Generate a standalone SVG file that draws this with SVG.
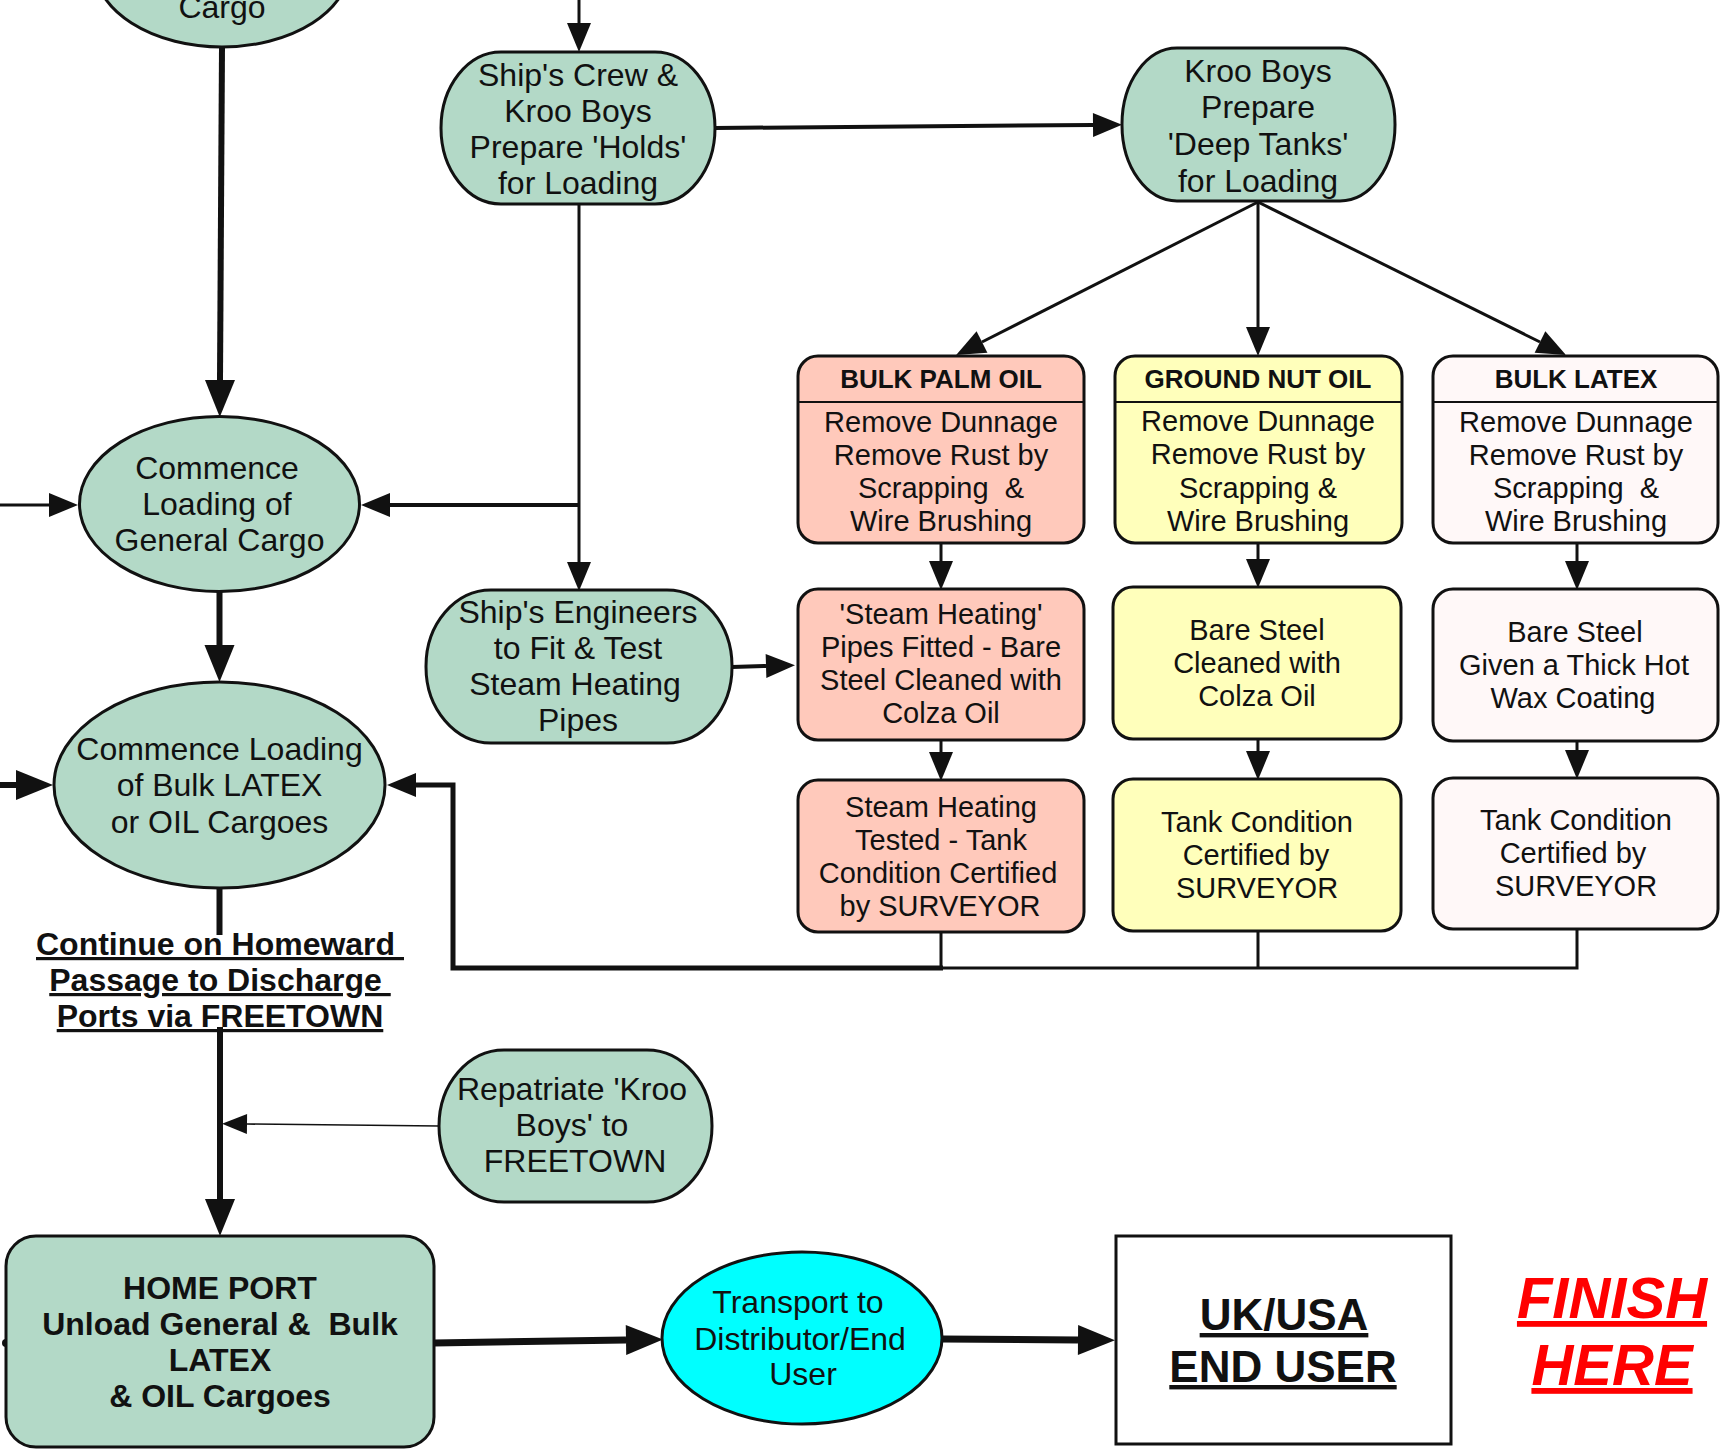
<svg xmlns="http://www.w3.org/2000/svg" width="1721" height="1449" viewBox="0 0 1721 1449">
<style>
text{font-family:"Liberation Sans",Arial,sans-serif;fill:#111;text-anchor:middle}
.t32{font-size:32px}
.t29{font-size:29px}
.hd{font-size:26px;font-weight:bold}
.b32{font-size:32px;font-weight:bold}
.ul{text-decoration:underline;white-space:pre}
.pre{white-space:pre}
.g{fill:#B3D9C7;stroke:#111;stroke-width:3}
.palm{fill:#FFC9BB;stroke:#111;stroke-width:3}
.gn{fill:#FFFFBB;stroke:#111;stroke-width:3}
.lx{fill:#FFF8F8;stroke:#111;stroke-width:3}
.c{fill:none;stroke:#111;stroke-linecap:butt}
.w3{stroke-width:3}.w4{stroke-width:4}.w5{stroke-width:5}.w6{stroke-width:6}.w7{stroke-width:7}.w1{stroke-width:1.6}
</style>
<defs>
<marker id="aL" markerUnits="userSpaceOnUse" markerWidth="38" markerHeight="30" refX="0" refY="15" orient="auto" overflow="visible"><path d="M0,0 L37,15 L0,30 z" fill="#111"/></marker>
<marker id="aM" markerUnits="userSpaceOnUse" markerWidth="30" markerHeight="24" refX="0" refY="12" orient="auto" overflow="visible"><path d="M0,0 L29,12 L0,24 z" fill="#111"/></marker>
<marker id="aS" markerUnits="userSpaceOnUse" markerWidth="26" markerHeight="20" refX="0" refY="10" orient="auto" overflow="visible"><path d="M0,0 L25,10 L0,20 z" fill="#111"/></marker>
</defs>
<rect width="1721" height="1449" fill="#fff"/>

<g id="connectors">
<path class="c w3" d="M579,0 V23" marker-end="url(#aM)"/>
<path class="c w4" d="M715,128 L1093,125" marker-end="url(#aM)"/>
<path class="c w3" d="M1258,202 L982,342" marker-end="url(#aM)"/>
<path class="c w3" d="M1258,202 V327" marker-end="url(#aM)"/>
<path class="c w3" d="M1258,202 L1540,342" marker-end="url(#aM)"/>
<path class="c w3" d="M941,543 V561" marker-end="url(#aM)"/>
<path class="c w3" d="M1258,543 V559" marker-end="url(#aM)"/>
<path class="c w3" d="M1577,543 V561" marker-end="url(#aM)"/>
<path class="c w3" d="M941,740 V752" marker-end="url(#aM)"/>
<path class="c w3" d="M1258,739 V751" marker-end="url(#aM)"/>
<path class="c w3" d="M1577,741 V750" marker-end="url(#aM)"/>
<path class="c w3" d="M941,932 V968 M1258,931 V968 M1577,929 V968 H941"/>
<path class="c w5" d="M943,968 H453 V785 H416" marker-end="url(#aM)"/>
<path class="c w3" d="M579,204 V562" marker-end="url(#aM)"/>
<path class="c w4" d="M579,505 H390" marker-end="url(#aM)"/>
<path class="c w3" d="M0,505 H49" marker-end="url(#aM)"/>
<path class="c w6" d="M222,47 L220,380" marker-end="url(#aL)"/>
<path class="c w6" d="M219.5,592 V645" marker-end="url(#aL)"/>
<path class="c w6" d="M0,785 H16" marker-end="url(#aL)"/>
<path class="c w6" d="M219.5,888 V935"/>
<path class="c w6" d="M220,1027 V1199" marker-end="url(#aL)"/>
<path class="c w1" d="M439,1126 L247,1124" marker-end="url(#aS)"/>
<path class="c w4" d="M732,667 L766,666" marker-end="url(#aM)"/>
<path class="c w7" d="M434,1343 L626,1340" marker-end="url(#aL)"/>
<path class="c w7" d="M942,1339 L1078,1340" marker-end="url(#aL)"/>
<circle cx="6" cy="1343" r="4" fill="#111"/>
</g>

<g id="n-cargo">
<ellipse class="g" cx="222" cy="-35" rx="128" ry="82"/>
<text class="t32" x="222" y="18">Cargo</text>
</g>

<g id="n-holds">
<rect class="g" x="441" y="52" width="274" height="152" rx="60" ry="76"/>
<text class="t32" x="578" y="86">Ship's Crew &amp;</text>
<text class="t32" x="578" y="122">Kroo Boys</text>
<text class="t32" x="578" y="158">Prepare 'Holds'</text>
<text class="t32" x="578" y="194">for Loading</text>
</g>

<g id="n-deeptanks">
<rect class="g" x="1122" y="48" width="273" height="153" rx="55" ry="76"/>
<text class="t32" x="1258" y="82">Kroo Boys</text>
<text class="t32" x="1258" y="118">Prepare</text>
<text class="t32" x="1258" y="155">'Deep Tanks'</text>
<text class="t32" x="1258" y="192">for Loading</text>
</g>

<g id="n-palm1">
<rect class="palm" x="798" y="356" width="286" height="187" rx="20"/>
<line x1="798" y1="402" x2="1084" y2="402" stroke="#111" stroke-width="2"/>
<text class="hd" x="941" y="388">BULK PALM OIL</text>
<text class="t29" x="941" y="432">Remove Dunnage</text>
<text class="t29" x="941" y="465">Remove Rust by</text>
<text class="t29 pre" x="941" y="498">Scrapping  &amp;</text>
<text class="t29" x="941" y="531">Wire Brushing</text>
</g>

<g id="n-gn1">
<rect class="gn" x="1115" y="356" width="287" height="187" rx="20"/>
<line x1="1115" y1="402" x2="1402" y2="402" stroke="#111" stroke-width="2"/>
<text class="hd" x="1258" y="388">GROUND NUT OIL</text>
<text class="t29" x="1258" y="431">Remove Dunnage</text>
<text class="t29" x="1258" y="464">Remove Rust by</text>
<text class="t29" x="1258" y="498">Scrapping &amp;</text>
<text class="t29" x="1258" y="531">Wire Brushing</text>
</g>

<g id="n-latex1">
<rect class="lx" x="1433" y="356" width="285" height="187" rx="20"/>
<line x1="1433" y1="402" x2="1718" y2="402" stroke="#111" stroke-width="2"/>
<text class="hd" x="1576" y="388">BULK LATEX</text>
<text class="t29" x="1576" y="432">Remove Dunnage</text>
<text class="t29" x="1576" y="465">Remove Rust by</text>
<text class="t29 pre" x="1576" y="498">Scrapping  &amp;</text>
<text class="t29" x="1576" y="531">Wire Brushing</text>
</g>

<g id="n-palm2">
<rect class="palm" x="798" y="589" width="286" height="151" rx="20"/>
<text class="t29" x="941" y="624">'Steam Heating'</text>
<text class="t29" x="941" y="657">Pipes Fitted - Bare</text>
<text class="t29" x="941" y="690">Steel Cleaned with</text>
<text class="t29" x="941" y="723">Colza Oil</text>
</g>

<g id="n-gn2">
<rect class="gn" x="1113" y="587" width="288" height="152" rx="20"/>
<text class="t29" x="1257" y="640">Bare Steel</text>
<text class="t29" x="1257" y="673">Cleaned with</text>
<text class="t29" x="1257" y="706">Colza Oil</text>
</g>

<g id="n-latex2">
<rect class="lx" x="1433" y="589" width="285" height="152" rx="20"/>
<text class="t29" x="1575" y="642">Bare Steel</text>
<text class="t29" x="1574" y="675">Given a Thick Hot</text>
<text class="t29" x="1573" y="708">Wax Coating</text>
</g>

<g id="n-palm3">
<rect class="palm" x="798" y="780" width="286" height="152" rx="20"/>
<text class="t29" x="941" y="817">Steam Heating</text>
<text class="t29" x="941" y="850">Tested - Tank</text>
<text class="t29" x="938" y="883">Condition Certified</text>
<text class="t29" x="940" y="916">by SURVEYOR</text>
</g>

<g id="n-gn3">
<rect class="gn" x="1113" y="779" width="288" height="152" rx="20"/>
<text class="t29" x="1257" y="832">Tank Condition</text>
<text class="t29" x="1256" y="865">Certified by</text>
<text class="t29" x="1257" y="898">SURVEYOR</text>
</g>

<g id="n-latex3">
<rect class="lx" x="1433" y="778" width="285" height="151" rx="20"/>
<text class="t29" x="1576" y="830">Tank Condition</text>
<text class="t29" x="1573" y="863">Certified by</text>
<text class="t29" x="1576" y="896">SURVEYOR</text>
</g>

<g id="n-general">
<ellipse class="g" cx="219.5" cy="504" rx="140" ry="87.5"/>
<text class="t32" x="217" y="479">Commence</text>
<text class="t32" x="217" y="515">Loading of</text>
<text class="t32" x="219.5" y="551">General Cargo</text>
</g>

<g id="n-engineers">
<rect class="g" x="426" y="590" width="306" height="153" rx="65" ry="76"/>
<text class="t32" x="578" y="623">Ship's Engineers</text>
<text class="t32" x="578" y="659">to Fit &amp; Test</text>
<text class="t32" x="575" y="695">Steam Heating</text>
<text class="t32" x="578" y="731">Pipes</text>
</g>

<g id="n-bulk">
<ellipse class="g" cx="219.5" cy="785" rx="165.5" ry="103"/>
<text class="t32" x="219.5" y="760">Commence Loading</text>
<text class="t32" x="219.5" y="796">of Bulk LATEX</text>
<text class="t32" x="219.5" y="833">or OIL Cargoes</text>
</g>

<g id="n-continue">
<text class="b32 ul" x="220" y="955">Continue on Homeward </text>
<text class="b32 ul" x="220" y="991">Passage to Discharge </text>
<text class="b32 ul" x="220" y="1027">Ports via FREETOWN</text>
</g>

<g id="n-repatriate">
<rect class="g" x="439" y="1050" width="273" height="152" rx="65" ry="76"/>
<text class="t32" x="572" y="1100">Repatriate 'Kroo</text>
<text class="t32" x="572" y="1136">Boys' to</text>
<text class="t32" x="575" y="1172">FREETOWN</text>
</g>

<g id="n-homeport">
<rect class="g" x="6" y="1236" width="428" height="211" rx="30"/>
<text class="b32" x="220" y="1299">HOME PORT</text>
<text class="b32 pre" x="220" y="1335">Unload General &amp;  Bulk</text>
<text class="b32" x="220" y="1371">LATEX</text>
<text class="b32" x="220" y="1407">&amp; OIL Cargoes</text>
</g>

<g id="n-transport">
<ellipse cx="802" cy="1338" rx="140" ry="86" fill="#00FFFF" stroke="#111" stroke-width="3"/>
<text class="t32" x="798" y="1313">Transport to</text>
<text class="t32" x="800" y="1350">Distributor/End</text>
<text class="t32" x="803" y="1385">User</text>
</g>

<g id="n-enduser">
<rect x="1116" y="1236" width="335" height="208" fill="#fff" stroke="#111" stroke-width="3"/>
<text x="1284" y="1330" style="font-size:44px;font-weight:bold;text-decoration:underline">UK/USA</text>
<text x="1283" y="1382" style="font-size:44px;font-weight:bold;text-decoration:underline">END USER</text>
</g>

<g id="n-finish">
<text x="1612" y="1318" style="font-size:58px;font-weight:bold;font-style:italic;fill:#FF0000;text-decoration:underline">FINISH</text>
<text x="1612" y="1385" style="font-size:58px;font-weight:bold;font-style:italic;fill:#FF0000;text-decoration:underline">HERE</text>
</g>
</svg>
